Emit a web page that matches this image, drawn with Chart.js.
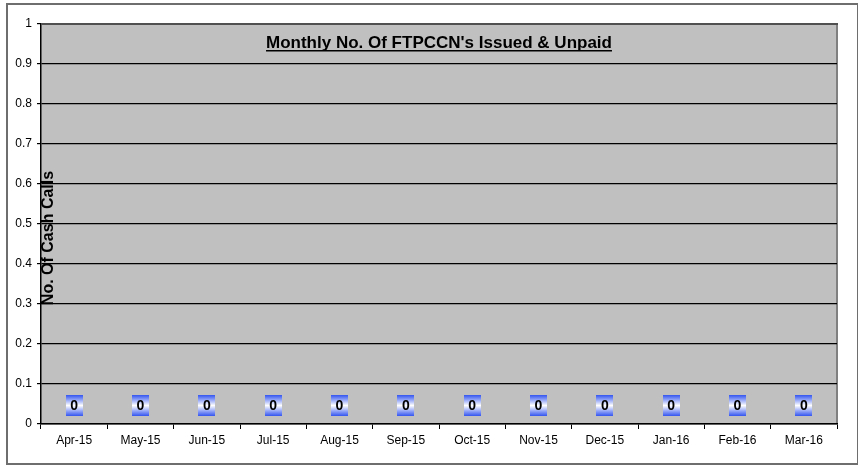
<!DOCTYPE html>
<html>
<head>
<meta charset="utf-8">
<script src="https://cdn.jsdelivr.net/npm/chart.js@4"></script>
<style>
  html, body { margin: 0; padding: 0; background: #fff; }
  #wrap { width: 858px; height: 466px; position: relative; }
</style>
</head>
<body>
<div id="wrap"><canvas id="cashCallsChart" width="858" height="466"></canvas></div>
<script>
// Chart data
const months = ['Apr-15', 'May-15', 'Jun-15', 'Jul-15', 'Aug-15', 'Sep-15', 'Oct-15', 'Nov-15', 'Dec-15', 'Jan-16', 'Feb-16', 'Mar-16'];
const unpaidCounts = [0, 0, 0, 0, 0, 0, 0, 0, 0, 0, 0, 0];
const yTicks = [0, 0.1, 0.2, 0.3, 0.4, 0.5, 0.6, 0.7, 0.8, 0.9, 1];
const chartTitle = "Monthly No. Of FTPCCN's Issued & Unpaid";
const yAxisTitle = 'No. Of Cash Calls';

document.addEventListener('DOMContentLoaded', function() {
    // Outer frame + grey plot background
    const backdrop = {
        id: 'backdrop',
        beforeDraw(chart) {
            const ctx = chart.ctx;
            const a = chart.chartArea;
            ctx.save();
            ctx.fillStyle = '#fff';
            ctx.fillRect(0, 0, chart.width, chart.height);
            ctx.strokeStyle = '#6e6e6e';
            ctx.lineWidth = 2;
            ctx.strokeRect(7, 4, 851, 460);
            ctx.fillStyle = '#c0c0c0';
            ctx.fillRect(a.left, a.top, a.right - a.left, a.bottom - a.top);
            ctx.strokeStyle = '#808080';
            ctx.lineWidth = 2;
            ctx.beginPath();
            ctx.moveTo(a.right, a.top);
            ctx.lineTo(a.right, a.bottom);
            ctx.stroke();
            ctx.restore();
        }
    };

    // Title and axis title drawn inside the plot area, plus value boxes
    const overlays = {
        id: 'overlays',
        afterDatasetsDraw(chart) {
            const ctx = chart.ctx;
            const a = chart.chartArea;
            ctx.save();

            // plot top edge is a bit heavier
            ctx.strokeStyle = '#505050';
            ctx.lineWidth = 2;
            ctx.beginPath();
            ctx.moveTo(a.left, a.top);
            ctx.lineTo(a.right + 1, a.top);
            ctx.stroke();

            // title
            ctx.font = 'bold 17px "Liberation Sans", Arial, sans-serif';
            ctx.fillStyle = '#000';
            ctx.textAlign = 'center';
            ctx.textBaseline = 'alphabetic';
            const cx = (a.left + a.right) / 2;
            const tw = ctx.measureText(chartTitle).width;
            ctx.fillText(chartTitle, cx, 48);
            ctx.fillRect(cx - tw / 2, 50, tw, 1.5);

            // y axis title
            ctx.translate(a.left + 12, 238);
            ctx.rotate(-Math.PI / 2);
            ctx.font = 'bold 16px "Liberation Sans", Arial, sans-serif';
            ctx.textBaseline = 'alphabetic';
            ctx.fillText(yAxisTitle, 0, 0);
            ctx.setTransform(1, 0, 0, 1, 0, 0);

            // value labels
            const meta = chart.getDatasetMeta(0);
            meta.data.forEach((bar, i) => {
                const w = 17, h = 21;
                const x0 = Math.round(bar.x - w / 2);
                const y0 = Math.round(bar.y - 8 - h);
                const g = ctx.createLinearGradient(0, y0, 0, y0 + h);
                g.addColorStop(0, '#3355f0');
                g.addColorStop(0.5, '#ffffff');
                g.addColorStop(1, '#3355f0');
                ctx.fillStyle = g;
                ctx.fillRect(x0, y0, w, h);
                ctx.fillStyle = '#000';
                ctx.font = 'bold 14px "Liberation Sans", Arial, sans-serif';
                ctx.textAlign = 'center';
                ctx.textBaseline = 'middle';
                ctx.fillText(String(unpaidCounts[i]), bar.x, y0 + h / 2 + 1);
            });
            ctx.restore();
        }
    };

    const ctx = document.getElementById('cashCallsChart');
    new Chart(ctx.getContext('2d'), {
        type: 'bar',
        data: {
            labels: months,
            datasets: [{
                label: 'Issued & Unpaid',
                data: unpaidCounts,
                backgroundColor: '#3355f0'
            }]
        },
        options: {
            responsive: false,
            animation: false,
            layout: { padding: { top: 24, right: 21, left: 0, bottom: 0 } },
            plugins: {
                legend: { display: false },
                title: { display: false },
                tooltip: { enabled: false }
            },
            scales: {
                x: {
                    offset: true,
                    grid: {
                        offset: true,
                        drawOnChartArea: false,
                        color: '#000',
                        tickLength: 5
                    },
                    border: { color: '#000', width: 1.5 },
                    ticks: {
                        color: '#000',
                        padding: 4,
                        maxRotation: 0,
                        font: { family: '"Liberation Sans", Arial, sans-serif', size: 12 }
                    },
                    afterFit: function(scale) { scale.height = 42; }
                },
                y: {
                    min: 0,
                    max: 1,
                    afterBuildTicks: function(scale) {
                        scale.ticks = yTicks.map(v => ({ value: v }));
                    },
                    grid: {
                        color: '#000',
                        lineWidth: 1.2,
                        tickLength: 4
                    },
                    border: { color: '#000', width: 1.5 },
                    ticks: {
                        color: '#000',
                        padding: 5,
                        font: { family: '"Liberation Sans", Arial, sans-serif', size: 12 },
                        callback: function(value) { return String(Number(value.toFixed(1))); }
                    },
                    afterFit: function(scale) { scale.width = 41; }
                }
            }
        },
        plugins: [backdrop, overlays]
    });
});
</script>
</body>
</html>
